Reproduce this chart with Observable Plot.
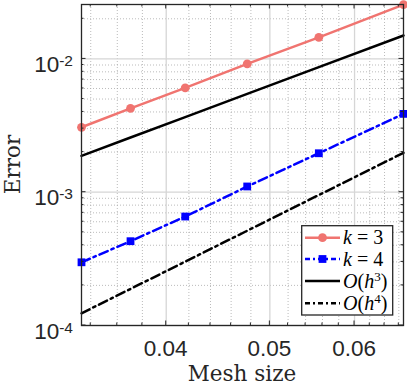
<!DOCTYPE html>
<html><head><meta charset="utf-8">
<script src="https://cdn.jsdelivr.net/npm/d3@7"></script>
<script src="https://cdn.jsdelivr.net/npm/@observablehq/plot@0.6"></script>
<style>body{margin:0;background:#fff} svg{display:block}</style>
</head><body><div id="chart"></div>
<script>
// Data
const meshSize = [0.03333, 0.03704, 0.04167, 0.04762, 0.05556, 0.06667];
const errK3 = [0.00307, 0.00426, 0.00606, 0.00917, 0.01452, 0.02555];
const errK4 = [0.000298, 0.000429, 0.000657, 0.001104, 0.00196, 0.00387];
const refH3 = [0.001874, 0.002571, 0.00366, 0.005464, 0.008676, 0.01499];
const refH4 = [0.0001235, 0.0001882, 0.0003014, 0.0005142, 0.0009526, 0.001975];

const xDomain = [0.03333, 0.06667];
const yDomain = [0.0001, 0.0256];
const xMajor = [0.04, 0.05, 0.06];
const xMajorLabels = ["0.04", "0.05", "0.06"];
const xMinor = [0.034, 0.036, 0.038, 0.042, 0.044, 0.046, 0.048, 0.052, 0.054, 0.056, 0.058, 0.062, 0.064, 0.066];
const yMajor = [0.0001, 0.001, 0.01];
const yMajorExp = ["-4", "-3", "-2"];
const yMinor = [0.0002, 0.0003, 0.0004, 0.0005, 0.0006, 0.0007, 0.0008, 0.0009,
                0.002, 0.003, 0.004, 0.005, 0.006, 0.007, 0.008, 0.009, 0.02];
const legendLabels = ["k3", "k4", "h3", "h4"];

const salmon = "#f07470";
const blue = "#0000ff";
const dashDot = "9,4,2.5,4";
const lw = 2.5;

const rows = (vals) => meshSize.map((h, i) => ({h, err: vals[i]}));

const chart = Plot.plot({
  width: 407, height: 386,
  marginLeft: 81, marginRight: 4, marginTop: 4, marginBottom: 61,
  x: {type: "log", domain: xDomain, axis: null},
  y: {type: "log", domain: yDomain, axis: null},
  style: {background: "#fff", overflow: "visible"},
  marks: [
    Plot.ruleX(xMinor, {stroke: "#aaaaaa", strokeWidth: 0.8, strokeDasharray: "1,2"}),
    Plot.ruleY(yMinor, {stroke: "#aaaaaa", strokeWidth: 0.8, strokeDasharray: "1,2"}),
    Plot.ruleX(xMajor, {stroke: "#d6d6d6", strokeWidth: 1.3}),
    Plot.ruleY(yMajor, {stroke: "#d6d6d6", strokeWidth: 1.3}),
    Plot.line(rows(errK3), {x: "h", y: "err", stroke: salmon, strokeWidth: lw}),
    Plot.dot(rows(errK3), {x: "h", y: "err", r: 4.4, fill: salmon}),
    Plot.line(rows(errK4), {x: "h", y: "err", stroke: blue, strokeWidth: lw, strokeDasharray: dashDot}),
    Plot.dot(rows(errK4), {x: "h", y: "err", r: 4.4, symbol: "square", fill: blue}),
    Plot.line(rows(refH3), {x: "h", y: "err", stroke: "#000", strokeWidth: lw}),
    Plot.line(rows(refH4), {x: "h", y: "err", stroke: "#000", strokeWidth: lw, strokeDasharray: dashDot}),
    Plot.frame({stroke: "#262626", strokeWidth: 1.3})
  ]
});

const svg = d3.select(chart);
const X = chart.scale("x"), Y = chart.scale("y");
const x0 = X.apply(xDomain[0]), x1 = X.apply(xDomain[1]);
const y0 = Y.apply(yDomain[0]), y1 = Y.apply(yDomain[1]);
const g = svg.append("g").attr("stroke", "#262626").attr("stroke-width", 1);
function xt(v, len) {
  const px = X.apply(v);
  g.append("line").attr("x1", px).attr("x2", px).attr("y1", y0).attr("y2", y0 - len);
  g.append("line").attr("x1", px).attr("x2", px).attr("y1", y1).attr("y2", y1 + len);
}
function yt(v, len) {
  const py = Y.apply(v);
  g.append("line").attr("y1", py).attr("y2", py).attr("x1", x0).attr("x2", x0 + len);
  g.append("line").attr("y1", py).attr("y2", py).attr("x1", x1).attr("x2", x1 - len);
}
xMajor.forEach(v => xt(v, 4.5)); xMinor.forEach(v => xt(v, 2.5));
yMajor.forEach(v => yt(v, 4.5)); yMinor.forEach(v => yt(v, 2.5));

const sans = "'Liberation Sans', Arial, Helvetica, sans-serif";
const serif = "'DejaVu Serif', serif";
xMajor.forEach((v, i) => {
  svg.append("text").attr("x", X.apply(v)).attr("y", 356).attr("text-anchor", "middle")
    .attr("font-family", sans).attr("font-size", 22.5).attr("fill", "#262626").text(xMajorLabels[i]);
});
yMajor.forEach((v, i) => {
  const t = svg.append("text").attr("x", 73).attr("y", Y.apply(v) + 13.5).attr("text-anchor", "end")
    .attr("font-family", sans).attr("font-size", 22.5).attr("fill", "#262626");
  t.append("tspan").text("10");
  t.append("tspan").attr("font-size", 15.5).attr("dy", -6).text(yMajorExp[i]);
});
svg.append("text").attr("x", (x0 + x1) / 2).attr("y", 381).attr("text-anchor", "middle")
  .attr("font-family", serif).attr("font-size", 21.5).attr("fill", "#262626").text("Mesh size");
svg.append("text").attr("transform", `translate(20,${(y0 + y1) / 2}) rotate(-90)`).attr("text-anchor", "middle")
  .attr("font-family", serif).attr("font-size", 21.5).attr("fill", "#262626").text("Error");

// Legend
const lg = svg.append("g");
lg.append("rect").attr("x", 301.7).attr("y", 225.7).attr("width", 91).attr("height", 89.3)
  .attr("fill", "#fff").attr("stroke", "#262626").attr("stroke-width", 1.3);
const rowY = [237.7, 259, 281, 303.3];
const styles = [
  {stroke: salmon, dash: null, marker: "circle"},
  {stroke: blue, dash: "5,3,2,3", marker: "square"},
  {stroke: "#000", dash: null, marker: null},
  {stroke: "#000", dash: "5,3,2,3", marker: null}
];
const lserif = "'Liberation Serif', 'Times New Roman', serif";
legendLabels.forEach((lab, i) => {
  const y = rowY[i], s = styles[i];
  const ln = lg.append("line").attr("x1", 305).attr("x2", 340).attr("y1", y).attr("y2", y)
    .attr("stroke", s.stroke).attr("stroke-width", lw);
  if (s.dash) ln.attr("stroke-dasharray", s.dash);
  if (s.marker === "circle") lg.append("circle").attr("cx", 322.5).attr("cy", y).attr("r", 4.4).attr("fill", s.stroke);
  if (s.marker === "square") lg.append("rect").attr("x", 322.5 - 3.9).attr("y", y - 3.9).attr("width", 7.8).attr("height", 7.8).attr("fill", s.stroke);
  const t = lg.append("text").attr("x", 343).attr("y", y + 6.5).attr("text-anchor", "start")
    .attr("font-family", lserif).attr("font-size", 20).attr("fill", "#000");
  if (lab === "k3" || lab === "k4") {
    t.append("tspan").attr("font-style", "italic").text("k");
    t.append("tspan").attr("dx", 5).text("=");
    t.append("tspan").attr("dx", 5).text(lab === "k3" ? "3" : "4");
  } else {
    t.append("tspan").attr("font-style", "italic").text("O");
    t.append("tspan").text("(");
    t.append("tspan").attr("font-style", "italic").text("h");
    t.append("tspan").attr("font-size", 13).attr("dy", -7).text(lab === "h3" ? "3" : "4");
    t.append("tspan").attr("dy", 7).text(")");
  }
});

document.getElementById("chart").appendChild(chart);
</script>
</body></html>
